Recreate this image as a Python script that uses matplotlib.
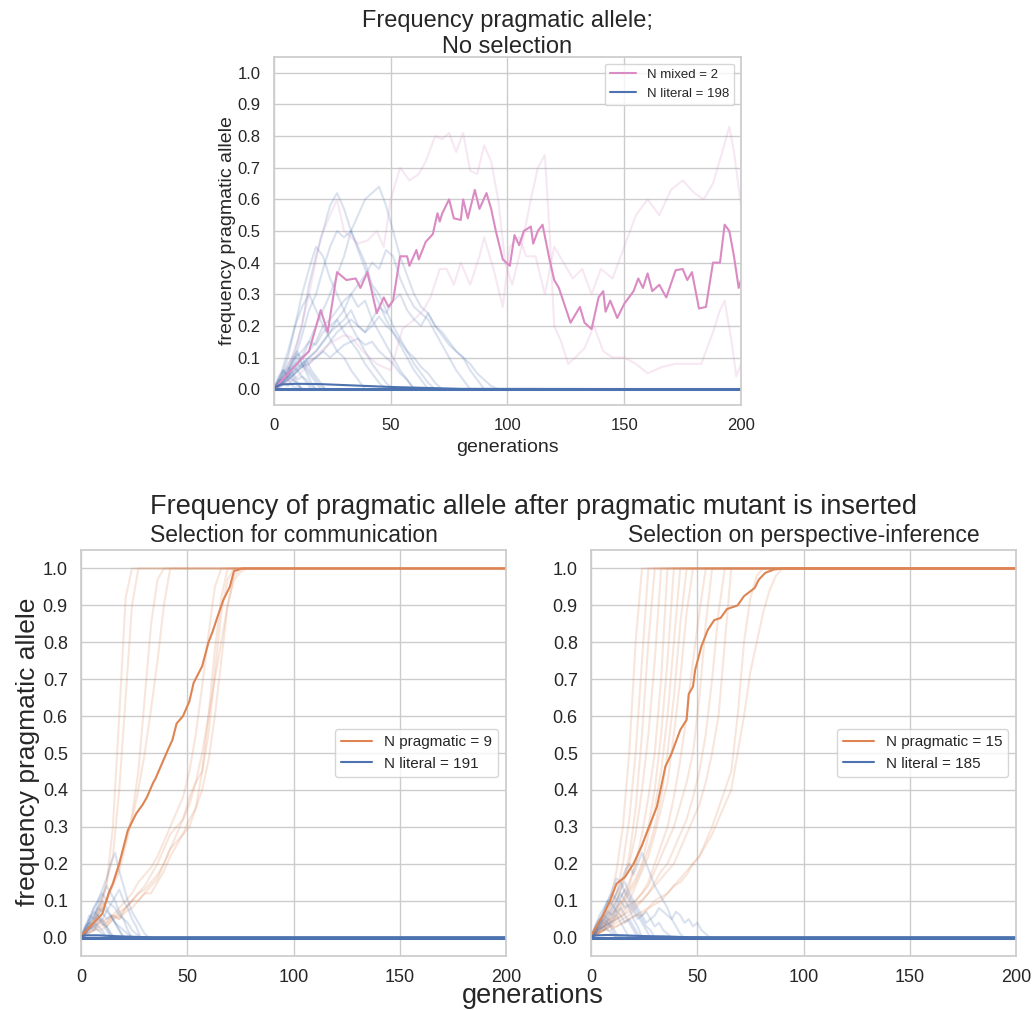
import matplotlib
matplotlib.use("Agg")
import matplotlib.pyplot as plt
import numpy as np
import seaborn as sns

# ---- top panel: no selection ----
# mean of the two mixed runs
mixed_mean_gens = [0, 5, 11, 15, 20, 23, 27, 31, 35, 37, 40, 44, 47, 49, 51, 54, 57, 58, 61, 62,
                   65, 68, 70, 71, 72, 75, 77, 80, 81, 83, 86, 88, 91, 93, 95, 98, 101, 103, 105, 107,
                   110, 111, 113, 115, 118, 120, 122, 127, 131, 133, 136, 139, 141, 142, 144, 147, 150, 152, 154, 156,
                   158, 160, 162, 165, 168, 172, 175, 177, 179, 182, 185, 188, 191, 193, 195, 197, 199, 200]
mixed_mean_vals = [0, 0.04, 0.09, 0.12, 0.25, 0.18, 0.37, 0.345, 0.35, 0.32, 0.37, 0.24, 0.29, 0.26, 0.28, 0.42, 0.42, 0.39, 0.44, 0.41,
                   0.466, 0.49, 0.556, 0.53, 0.555, 0.6, 0.54, 0.535, 0.6, 0.54, 0.63, 0.57, 0.62, 0.57, 0.5, 0.41, 0.39, 0.487, 0.455, 0.5,
                   0.514, 0.46, 0.5, 0.52, 0.41, 0.345, 0.32, 0.21, 0.26, 0.21, 0.19, 0.29, 0.31, 0.245, 0.28, 0.225, 0.27, 0.29, 0.31, 0.35,
                   0.32, 0.366, 0.31, 0.33, 0.29, 0.376, 0.38, 0.345, 0.37, 0.255, 0.26, 0.4, 0.4, 0.52, 0.5, 0.42, 0.32, 0.345]

mixed_run1_gens = [0, 5, 10, 15, 20, 24, 27, 30, 33, 36, 40, 44, 47, 50, 54, 58, 62, 65, 69, 72,
                   75, 78, 81, 84, 87, 90, 93, 96, 99, 102, 106, 110, 113, 116, 118, 120, 123, 126, 129, 133,
                   137, 141, 145, 150, 155, 160, 166, 172, 177, 183, 188, 191, 193, 196, 198, 200]
mixed_run1_vals = [0, 0.05, 0.15, 0.3, 0.48, 0.55, 0.6, 0.5, 0.48, 0.46, 0.47, 0.5, 0.45, 0.6, 0.7, 0.66, 0.68, 0.72, 0.8, 0.79,
                   0.81, 0.75, 0.81, 0.69, 0.68, 0.77, 0.72, 0.6, 0.4, 0.33, 0.45, 0.6, 0.7, 0.74, 0.5, 0.2, 0.15, 0.08, 0.1, 0.13,
                   0.2, 0.12, 0.1, 0.1, 0.08, 0.05, 0.07, 0.08, 0.08, 0.08, 0.18, 0.25, 0.28, 0.15, 0.04, 0.08]
mixed_run2_gens = [0, 5, 10, 15, 20, 25, 30, 33, 38, 44, 50, 55, 60, 64, 67, 71, 74, 77, 80, 84,
                   88, 90, 94, 98, 101, 105, 108, 112, 116, 120, 124, 128, 132, 136, 140, 145, 150, 155, 160, 165,
                   170, 175, 180, 184, 188, 192, 195, 197, 200]
mixed_run2_vals = [0, 0.02, 0.04, 0.08, 0.12, 0.15, 0.17, 0.165, 0.12, 0.08, 0.06, 0.19, 0.22, 0.25, 0.29, 0.38, 0.38, 0.33, 0.4, 0.33,
                   0.42, 0.48, 0.38, 0.26, 0.45, 0.48, 0.42, 0.42, 0.3, 0.45, 0.4, 0.35, 0.38, 0.3, 0.38, 0.35, 0.45, 0.55, 0.6, 0.55,
                   0.63, 0.66, 0.62, 0.6, 0.65, 0.75, 0.83, 0.75, 0.58]

# literal runs, sampled every 3 generations until extinction
top_literal_long = [
    [0, .03, .06, .12, .2, .33, .42, .5, .58, .62, .57, .5, .45, .4, .33, .3, .25, .2, .16, .12, .08, .05, .02, 0],
    [0, .02, .05, .08, .1, .15, .2, .25, .3, .36, .42, .5, .55, .6, .62, .64, .58, .5, .42, .36, .3, .26, .24, .2,
     .17, .14, .12, .1, .08, .05, .03, .01, 0],
    [0, .02, .05, .1, .17, .25, .3, .38, .45, .5, .48, .5, .44, .38, .32, .27, .22, .18, .14, .1, .06, .03, 0],
    [0, .04, .1, .2, .3, .38, .45, .42, .35, .3, .25, .2, .16, .12, .08, .05, .02, 0],
    [0, .01, .03, .05, .08, .1, .12, .15, .18, .22, .25, .3, .33, .36, .4, .38, .44, .42, .35, .3, .26, .24, .22, .18,
     .14, .1, .06, .03, 0],
    [0, .02, .04, .06, .08, .1, .12, .15, .18, .2, .22, .25, .2, .18, .22, .26, .24, .28, .3, .25, .22, .2, .24, .2,
     .18, .15, .12, .1, .06, .03, 0],
    [0, .05, .12, .2, .26, .3, .25, .2, .16, .12, .1, .06, .03, 0],
    [0, .02, .04, .06, .1, .12, .15, .2, .22, .25, .28, .3, .26, .28, .22, .18, .14, .1, .06, .03, 0],
    [0, .03, .06, .1, .12, .15, .14, .18, .2, .22, .18, .15, .12, .08, .05, .02, 0],
    [0, .01, .03, .05, .07, .08, .1, .12, .1, .12, .14, .15, .16, .14, .15, .12, .1, .08, .05, .03, 0],
    [0, .02, .03, .05, .07, .09, .1, .12, .15, .18, .2, .22, .2, .18, .2, .23, .2, .18, .15, .12, .1, .07, .05, .02, 0],
]
# short-lived literal runs, sampled every 2 generations
top_literal_short = [
    [0, .02, .05, .08, .1, .12, .08, .05, .02, 0],
    [0, .03, .06, .04, .07, .1, .08, .06, .04, .02, 0],
    [0, .01, .03, .05, .04, .02, 0],
    [0, .02, .04, .06, .09, .11, .1, .07, .05, .03, .01, 0],
    [0, .03, .02, .04, .03, .01, 0],
    [0, .02, .05, .07, .05, .03, .04, .02, 0],
    [0, .01, .02, .04, .06, .08, .07, .09, .06, .04, .02, 0],
    [0, .04, .06, .03, .01, 0],
    [0, .02, .03, .05, .07, .06, .04, .03, .01, 0],
    [0, .01, .02, .01, .03, .02, 0],
]
top_literal_mean_gens = [0, 3, 10, 20, 30, 40, 50, 60, 70, 80, 200]
top_literal_mean_vals = [0.005, 0.015, 0.017, 0.016, 0.013, 0.01, 0.007, 0.005, 0.003, 0.001, 0.0]

# ---- bottom left: selection for communication ----
comm_mean_gens = [0, 7, 10, 13, 15, 18, 22, 26, 29, 31, 34, 35, 38, 41, 43, 45, 48, 51, 53, 57,
                  60, 62, 64, 67, 70, 72, 76, 200]
comm_mean_vals = [0.005, 0.046, 0.064, 0.12, 0.146, 0.2, 0.29, 0.336, 0.36, 0.38, 0.42, 0.43, 0.47, 0.51, 0.535, 0.58, 0.6, 0.64, 0.69, 0.735,
                  0.8, 0.83, 0.865, 0.915, 0.95, 0.993, 1.0, 1.0]
# pragmatic runs, every 3 generations until fixation
comm_pragmatic = [
    [0, .02, .04, .08, .14, .3, .6, .92, 1],
    [0, .02, .05, .09, .15, .22, .4, .65, .9, 1],
    [0, .02, .04, .07, .1, .15, .2, .26, .33, .45, .65, .85, .97, 1],
    [0, .03, .05, .08, .1, .14, .18, .25, .32, .4, .5, .62, .75, .9, 1],
    [0, .01, .02, .04, .05, .06, .08, .1, .12, .15, .17, .19, .22, .26, .3, .34, .38, .45, .55, .68, .82, .95, 1],
    [0, .02, .03, .05, .04, .06, .05, .08, .1, .12, .13, .15, .17, .2, .24, .26, .28, .32, .35, .45, .6, .78, .92, 1],
    [0, .01, .02, .03, .04, .06, .05, .07, .08, .1, .12, .14, .16, .2, .24, .28, .32, .38, .42, .45, .55, .72, .88, .97, 1],
    [0, .02, .03, .04, .03, .05, .07, .08, .1, .1, .12, .12, .15, .18, .22, .25, .28, .3, .35, .4, .48, .6, .75, .9, .98, 1],
    [0, .01, .02, .02, .03, .05, .06, .08, .1, .12, .14, .17, .2, .24, .28, .3, .32, .36, .42, .5, .6, .7, .8, .9, .97, .99, 1],
]
# literal runs, every 2 generations until extinction
comm_literal = [
    [0, .02, .05, .08, .1, .13, .16, .2, .23, .18, .14, .1, .07, .05, .03, .01, 0],
    [0, .03, .05, .08, .1, .12, .1, .09, .11, .13, .1, .08, .05, .03, 0],
    [0, .02, .04, .06, .09, .11, .14, .12, .1, .07, .05, .02, 0],
    [0, .03, .06, .05, .08, .1, .08, .06, .04, .02, 0],
    [0, .01, .03, .05, .06, .08, .07, .09, .08, .06, .05, .04, .02, .01, 0],
    [0, .02, .04, .03, .05, .04, .02, 0],
    [0, .01, .02, .04, .06, .05, .07, .06, .04, .03, .02, .01, 0],
    [0, .02, .05, .07, .06, .04, .03, .01, 0],
    [0, .01, .02, .03, .02, .01, 0],
    [0, .03, .04, .06, .08, .07, .05, .06, .04, .02, 0],
    [0, .02, .03, .02, .04, .05, .03, .01, 0],
    [0, .01, .03, .04, .03, .02, 0],
]
comm_literal_mean_gens = [0, 3, 8, 15, 25, 35, 200]
comm_literal_mean_vals = [0.004, 0.006, 0.006, 0.004, 0.002, 0.0, 0.0]

# ---- bottom right: selection on perspective-inference ----
persp_mean_gens = [0, 6, 9, 12, 16, 20, 24, 28, 31, 35, 38, 42, 45, 46, 48, 49, 52, 55, 58, 61,
                   64, 69, 72, 77, 79, 82, 86, 90, 200]
persp_mean_vals = [0.005, 0.064, 0.1, 0.146, 0.164, 0.2, 0.25, 0.31, 0.354, 0.463, 0.5, 0.5625, 0.59, 0.66, 0.68, 0.725, 0.79, 0.834, 0.86, 0.866,
                   0.89, 0.9, 0.925, 0.947, 0.97, 0.988, 0.997, 1.0, 1.0]
persp_pragmatic = [
    [0, .03, .06, .1, .18, .3, .5, .8, 1],
    [0, .02, .05, .08, .12, .2, .32, .5, .75, 1],
    [0, .02, .04, .07, .1, .15, .22, .35, .55, .8, 1],
    [0, .03, .05, .08, .12, .15, .2, .28, .4, .55, .75, 1],
    [0, .02, .03, .05, .08, .1, .14, .2, .28, .38, .5, .7, 1],
    [0, .01, .03, .06, .08, .12, .15, .2, .25, .3, .4, .55, .75, 1],
    [0, .02, .04, .05, .07, .1, .13, .16, .2, .28, .35, .45, .6, .8, 1],
    [0, .01, .03, .04, .06, .09, .12, .15, .19, .24, .3, .38, .5, .65, .85, 1],
    [0, .02, .03, .05, .06, .08, .1, .14, .18, .22, .28, .35, .42, .55, .7, .88, 1],
    [0, .01, .02, .03, .05, .06, .08, .1, .12, .15, .2, .25, .3, .38, .48, .6, .75, .88, 1],
    [0, .02, .03, .04, .05, .07, .09, .1, .12, .14, .18, .22, .26, .3, .36, .42, .5, .65, .85, 1],
    [0, .01, .02, .04, .05, .06, .07, .09, .1, .12, .15, .18, .2, .24, .28, .32, .38, .45, .55, .7, .88, 1],
    [0, .01, .02, .03, .04, .05, .06, .08, .1, .12, .14, .16, .18, .2, .24, .28, .32, .36, .42, .5, .6, .8, 1],
    [0, .01, .02, .02, .03, .04, .05, .06, .07, .08, .1, .11, .12, .14, .15, .17, .2, .22, .26, .3, .35, .4, .45,
     .6, .8, .92, .98, 1],
    [0, .01, .02, .03, .03, .04, .05, .06, .06, .08, .09, .1, .12, .14, .16, .18, .2, .22, .25, .28, .32, .36, .4,
     .5, .6, .72, .8, .88, .94, .98, 1],
]
persp_literal = [
    [0, .02, .04, .06, .08, .1, .12, .15, .18, .2, .17, .2, .23, .2, .17, .14, .12, .1, .08, .05, .03, .01, 0],
    [0, .03, .05, .07, .1, .12, .1, .13, .15, .12, .1, .08, .06, .07, .05, .06, .08, .07, .06, .05, .07, .06, .04,
     .05, .03, .04, .02, .01, 0],
    [0, .02, .04, .07, .1, .13, .16, .15, .12, .1, .08, .06, .04, .02, 0],
    [0, .03, .06, .08, .1, .09, .07, .08, .06, .04, .02, 0],
    [0, .01, .03, .05, .07, .06, .08, .1, .08, .09, .07, .05, .06, .04, .05, .03, .04, .02, .01, 0],
    [0, .02, .04, .03, .05, .04, .06, .04, .02, 0],
    [0, .01, .02, .04, .03, .05, .07, .06, .04, .05, .03, .01, 0],
    [0, .03, .05, .04, .06, .08, .1, .12, .1, .08, .05, .03, 0],
    [0, .01, .02, .03, .02, .01, 0],
    [0, .02, .03, .05, .04, .02, 0],
    [0, .02, .04, .06, .05, .07, .09, .11, .13, .11, .09, .07, .05, .03, .02, 0],
    [0, .01, .03, .02, .04, .03, .01, 0],
]
persp_literal_mean_gens = [0, 3, 8, 15, 25, 35, 45, 60, 200]
persp_literal_mean_vals = [0.004, 0.006, 0.007, 0.006, 0.004, 0.003, 0.001, 0.0, 0.0]

n_counts_top = {"mixed": 2, "literal": 198}
n_counts_comm = {"pragmatic": 9, "literal": 191}
n_counts_persp = {"pragmatic": 15, "literal": 185}

LAST_GEN = 200


def run_xy(vals, step):
    """a run stays at its final state (lost / fixed) until the last generation"""
    gens = [i * step for i in range(len(vals))] + [LAST_GEN]
    return gens, list(vals) + [vals[-1]]


sns.set_theme(style="whitegrid")
plt.rcParams["font.family"] = ["Liberation Sans", "DejaVu Sans"]

deep = sns.color_palette("deep")
c_lit, c_prag, c_mix = deep[0], deep[1], deep[6]

W, H = 1035, 1010
fig = plt.figure(figsize=(W / 100, H / 100), dpi=100)
ax_top = fig.add_axes([274 / W, 1 - 405 / H, 467 / W, 348 / H])
ax_l = fig.add_axes([81 / W, 1 - 956 / H, 425 / W, 406 / H])
ax_r = fig.add_axes([591 / W, 1 - 956 / H, 425 / W, 406 / H])

FAINT = 0.2

# top
for run in top_literal_long:
    ax_top.plot(*run_xy(run, 3), color=c_lit, alpha=FAINT, lw=1.5)
for run in top_literal_short:
    ax_top.plot(*run_xy(run, 2), color=c_lit, alpha=FAINT, lw=1.5)
ax_top.plot(mixed_run1_gens, mixed_run1_vals, color=c_mix, alpha=FAINT, lw=1.5)
ax_top.plot(mixed_run2_gens, mixed_run2_vals, color=c_mix, alpha=FAINT, lw=1.5)
ax_top.plot(mixed_mean_gens, mixed_mean_vals, color=c_mix, lw=1.5,
            label=f"N mixed = {n_counts_top['mixed']}")
ax_top.plot(top_literal_mean_gens, top_literal_mean_vals, color=c_lit, lw=1.5,
            label=f"N literal = {n_counts_top['literal']}")
ax_top.plot([0, LAST_GEN], [0, 0], color=c_lit, lw=2.2)
ax_top.legend(loc="upper right", fontsize=9.5)
ax_top.set_title("Frequency pragmatic allele;\nNo selection", fontsize=17, pad=3)
ax_top.set_xlabel("generations", fontsize=14)
ax_top.set_ylabel("frequency pragmatic allele", fontsize=14, labelpad=1)

# bottom
panels = [
    (ax_l, "Selection for communication", comm_pragmatic, comm_literal,
     comm_mean_gens, comm_mean_vals, comm_literal_mean_gens, comm_literal_mean_vals, n_counts_comm),
    (ax_r, "Selection on perspective-inference", persp_pragmatic, persp_literal,
     persp_mean_gens, persp_mean_vals, persp_literal_mean_gens, persp_literal_mean_vals, n_counts_persp),
]
for ax, title, prag_runs, lit_runs, pg, pv, lg, lv, counts in panels:
    for run in prag_runs:
        ax.plot(*run_xy(run, 3), color=c_prag, alpha=FAINT, lw=1.5)
    for run in lit_runs:
        ax.plot(*run_xy(run, 2), color=c_lit, alpha=FAINT, lw=1.5)
    ax.plot(pg, pv, color=c_prag, lw=1.5, label=f"N pragmatic = {counts['pragmatic']}")
    ax.plot(lg, lv, color=c_lit, lw=1.5, label=f"N literal = {counts['literal']}")
    ax.plot([0, LAST_GEN], [0, 0], color=c_lit, lw=2.2)
    ax.legend(loc="center right", fontsize=11)
    ax.set_title(title, fontsize=16.5)

for ax, fs in [(ax_top, 12), (ax_l, 13), (ax_r, 13)]:
    ax.set_xlim(0, 200)
    ax.set_ylim(-0.05, 1.05)
    ax.set_xticks([0, 50, 100, 150, 200])
    ax.set_yticks(np.round(np.arange(0, 1.01, 0.1), 1))
    ax.set_yticklabels([f"{v:.1f}" for v in np.arange(0, 1.01, 0.1)])
    ax.tick_params(labelsize=fs)

fig.text(533 / W, 1 - 507 / H, "Frequency of pragmatic allele after pragmatic mutant is inserted",
         ha="center", va="center", fontsize=19.5)
fig.text(533 / W, 1 - 996 / H, "generations", ha="center", va="center", fontsize=19.5)
fig.text(28 / W, 1 - 752 / H, "frequency pragmatic allele", rotation=90,
         ha="center", va="center", fontsize=19)

fig.savefig("out.png", dpi=100)
